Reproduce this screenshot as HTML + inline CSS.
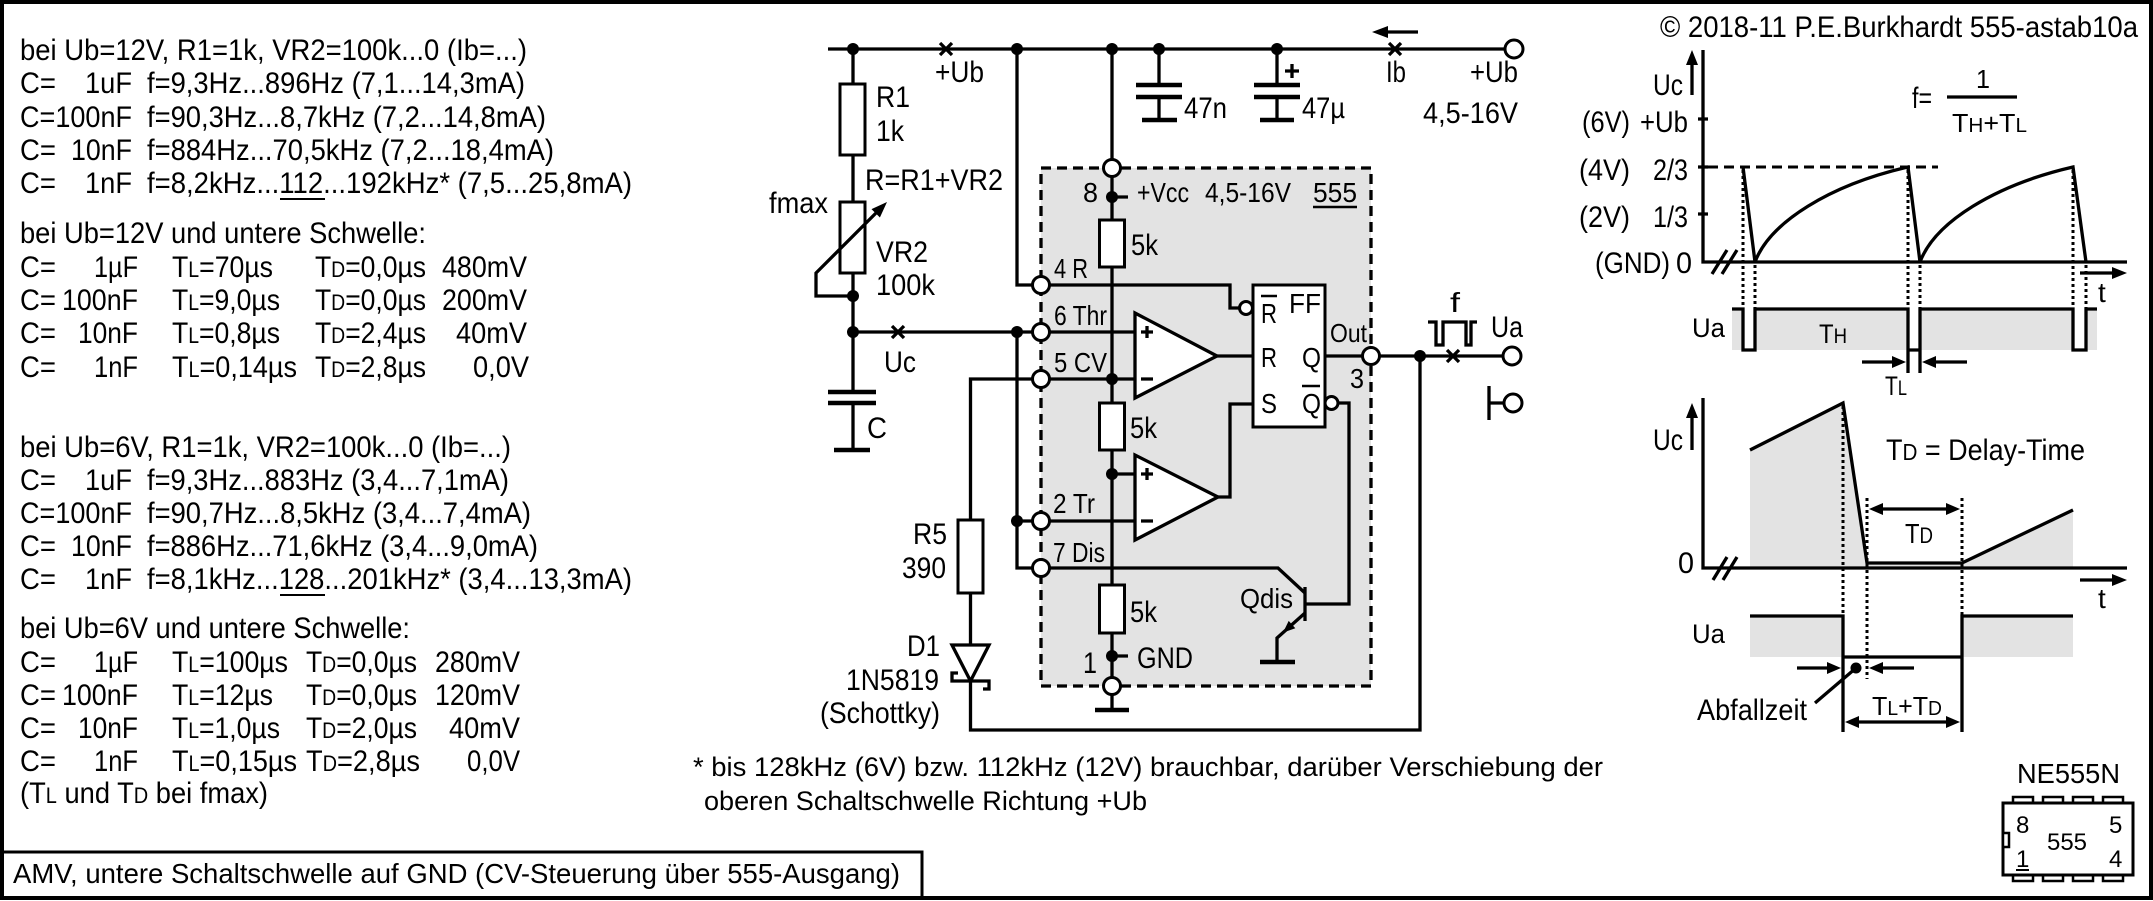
<!DOCTYPE html>
<html><head><meta charset="utf-8"><title>555-astab10a</title>
<style>
html,body{margin:0;padding:0;background:#fff}
svg{display:block}
text{font-family:"Liberation Sans",sans-serif;fill:#000}
.w{fill:none;stroke:#000;stroke-width:3.3;stroke-linejoin:miter}
.p{fill:none;stroke:#000;stroke-width:4.5}
.d{fill:none;stroke:#000;stroke-width:3;stroke-dasharray:3 3}
.o{fill:#fff;stroke:#000;stroke-width:3}
.b{fill:#000}
.g{fill:#e3e3e3;stroke:none}
.L{font-size:30px}
.M{font-size:28px}
.S{font-size:26px}
</style></head><body>
<svg xmlns="http://www.w3.org/2000/svg" width="2153" height="901" viewBox="0 0 2153 901">
<rect x="0" y="0" width="2153" height="901" fill="#fff"/>
<rect x="2" y="2" width="2149" height="896" fill="none" stroke="#000" stroke-width="4"/>

<!-- LEFT TEXT BLOCK 1 -->
<g class="L">
<text x="20" y="60" textLength="507" lengthAdjust="spacingAndGlyphs">bei Ub=12V, R1=1k, VR2=100k...0 (Ib=...)</text>
<text x="20" y="93" textLength="36" lengthAdjust="spacingAndGlyphs">C=</text>
<text x="85" y="93" textLength="47" lengthAdjust="spacingAndGlyphs">1uF</text>
<text x="147" y="93" textLength="378" lengthAdjust="spacingAndGlyphs">f=9,3Hz...896Hz (7,1...14,3mA)</text>
<text x="20" y="127" textLength="112" lengthAdjust="spacingAndGlyphs">C=100nF</text>
<text x="147" y="127" textLength="399" lengthAdjust="spacingAndGlyphs">f=90,3Hz...8,7kHz (7,2...14,8mA)</text>
<text x="20" y="160" textLength="36" lengthAdjust="spacingAndGlyphs">C=</text>
<text x="71" y="160" textLength="61" lengthAdjust="spacingAndGlyphs">10nF</text>
<text x="147" y="160" textLength="407" lengthAdjust="spacingAndGlyphs">f=884Hz...70,5kHz (7,2...18,4mA)</text>
<text x="20" y="193" textLength="36" lengthAdjust="spacingAndGlyphs">C=</text>
<text x="85" y="193" textLength="47" lengthAdjust="spacingAndGlyphs">1nF</text>
<text x="147" y="193" textLength="485" lengthAdjust="spacingAndGlyphs">f=8,2kHz...112...192kHz* (7,5...25,8mA)</text>
<text x="20" y="243" textLength="406" lengthAdjust="spacingAndGlyphs">bei Ub=12V und untere Schwelle:</text>

<text x="20" y="277" textLength="36" lengthAdjust="spacingAndGlyphs">C=</text>
<text x="94" y="277" textLength="44" lengthAdjust="spacingAndGlyphs">1µF</text>
<text x="172" y="277" textLength="101" lengthAdjust="spacingAndGlyphs">T<tspan font-size="22">L</tspan>=70µs</text>
<text x="315" y="277" textLength="111" lengthAdjust="spacingAndGlyphs">T<tspan font-size="22">D</tspan>=0,0µs</text>
<text x="442" y="277" textLength="85" lengthAdjust="spacingAndGlyphs">480mV</text>

<text x="20" y="310" textLength="36" lengthAdjust="spacingAndGlyphs">C=</text>
<text x="62" y="310" textLength="76" lengthAdjust="spacingAndGlyphs">100nF</text>
<text x="172" y="310" textLength="108" lengthAdjust="spacingAndGlyphs">T<tspan font-size="22">L</tspan>=9,0µs</text>
<text x="315" y="310" textLength="111" lengthAdjust="spacingAndGlyphs">T<tspan font-size="22">D</tspan>=0,0µs</text>
<text x="442" y="310" textLength="85" lengthAdjust="spacingAndGlyphs">200mV</text>

<text x="20" y="343" textLength="36" lengthAdjust="spacingAndGlyphs">C=</text>
<text x="78" y="343" textLength="60" lengthAdjust="spacingAndGlyphs">10nF</text>
<text x="172" y="343" textLength="108" lengthAdjust="spacingAndGlyphs">T<tspan font-size="22">L</tspan>=0,8µs</text>
<text x="315" y="343" textLength="111" lengthAdjust="spacingAndGlyphs">T<tspan font-size="22">D</tspan>=2,4µs</text>
<text x="456" y="343" textLength="71" lengthAdjust="spacingAndGlyphs">40mV</text>

<text x="20" y="377" textLength="36" lengthAdjust="spacingAndGlyphs">C=</text>
<text x="94" y="377" textLength="44" lengthAdjust="spacingAndGlyphs">1nF</text>
<text x="172" y="377" textLength="125" lengthAdjust="spacingAndGlyphs">T<tspan font-size="22">L</tspan>=0,14µs</text>
<text x="315" y="377" textLength="111" lengthAdjust="spacingAndGlyphs">T<tspan font-size="22">D</tspan>=2,8µs</text>
<text x="473" y="377" textLength="56" lengthAdjust="spacingAndGlyphs">0,0V</text>
</g>
<path d="M280,199 H325" stroke="#000" stroke-width="2"/>

<!-- LEFT TEXT BLOCK 2 -->
<g class="L">
<text x="20" y="457" textLength="491" lengthAdjust="spacingAndGlyphs">bei Ub=6V, R1=1k, VR2=100k...0 (Ib=...)</text>
<text x="20" y="490" textLength="36" lengthAdjust="spacingAndGlyphs">C=</text>
<text x="85" y="490" textLength="47" lengthAdjust="spacingAndGlyphs">1uF</text>
<text x="147" y="490" textLength="362" lengthAdjust="spacingAndGlyphs">f=9,3Hz...883Hz (3,4...7,1mA)</text>
<text x="20" y="523" textLength="112" lengthAdjust="spacingAndGlyphs">C=100nF</text>
<text x="147" y="523" textLength="384" lengthAdjust="spacingAndGlyphs">f=90,7Hz...8,5kHz (3,4...7,4mA)</text>
<text x="20" y="556" textLength="36" lengthAdjust="spacingAndGlyphs">C=</text>
<text x="71" y="556" textLength="61" lengthAdjust="spacingAndGlyphs">10nF</text>
<text x="147" y="556" textLength="391" lengthAdjust="spacingAndGlyphs">f=886Hz...71,6kHz (3,4...9,0mA)</text>
<text x="20" y="589" textLength="36" lengthAdjust="spacingAndGlyphs">C=</text>
<text x="85" y="589" textLength="47" lengthAdjust="spacingAndGlyphs">1nF</text>
<text x="147" y="589" textLength="485" lengthAdjust="spacingAndGlyphs">f=8,1kHz...128...201kHz* (3,4...13,3mA)</text>
<text x="20" y="638" textLength="390" lengthAdjust="spacingAndGlyphs">bei Ub=6V und untere Schwelle:</text>

<text x="20" y="672" textLength="36" lengthAdjust="spacingAndGlyphs">C=</text>
<text x="94" y="672" textLength="44" lengthAdjust="spacingAndGlyphs">1µF</text>
<text x="172" y="672" textLength="116" lengthAdjust="spacingAndGlyphs">T<tspan font-size="22">L</tspan>=100µs</text>
<text x="306" y="672" textLength="111" lengthAdjust="spacingAndGlyphs">T<tspan font-size="22">D</tspan>=0,0µs</text>
<text x="435" y="672" textLength="85" lengthAdjust="spacingAndGlyphs">280mV</text>

<text x="20" y="705" textLength="36" lengthAdjust="spacingAndGlyphs">C=</text>
<text x="62" y="705" textLength="76" lengthAdjust="spacingAndGlyphs">100nF</text>
<text x="172" y="705" textLength="101" lengthAdjust="spacingAndGlyphs">T<tspan font-size="22">L</tspan>=12µs</text>
<text x="306" y="705" textLength="111" lengthAdjust="spacingAndGlyphs">T<tspan font-size="22">D</tspan>=0,0µs</text>
<text x="435" y="705" textLength="85" lengthAdjust="spacingAndGlyphs">120mV</text>

<text x="20" y="738" textLength="36" lengthAdjust="spacingAndGlyphs">C=</text>
<text x="78" y="738" textLength="60" lengthAdjust="spacingAndGlyphs">10nF</text>
<text x="172" y="738" textLength="108" lengthAdjust="spacingAndGlyphs">T<tspan font-size="22">L</tspan>=1,0µs</text>
<text x="306" y="738" textLength="111" lengthAdjust="spacingAndGlyphs">T<tspan font-size="22">D</tspan>=2,0µs</text>
<text x="449" y="738" textLength="71" lengthAdjust="spacingAndGlyphs">40mV</text>

<text x="20" y="771" textLength="36" lengthAdjust="spacingAndGlyphs">C=</text>
<text x="94" y="771" textLength="44" lengthAdjust="spacingAndGlyphs">1nF</text>
<text x="172" y="771" textLength="125" lengthAdjust="spacingAndGlyphs">T<tspan font-size="22">L</tspan>=0,15µs</text>
<text x="306" y="771" textLength="114" lengthAdjust="spacingAndGlyphs">T<tspan font-size="22">D</tspan>=2,8µs</text>
<text x="467" y="771" textLength="53" lengthAdjust="spacingAndGlyphs">0,0V</text>

<text x="20" y="803" textLength="248" lengthAdjust="spacingAndGlyphs">(T<tspan font-size="22">L</tspan> und T<tspan font-size="22">D</tspan> bei fmax)</text>
</g>
<path d="M280,595 H325" stroke="#000" stroke-width="2"/>

<!-- BOTTOM BOX -->
<path d="M2,852 H922 V898" fill="none" stroke="#000" stroke-width="3"/>
<text class="M" x="13" y="883" textLength="887" lengthAdjust="spacingAndGlyphs">AMV, untere Schaltschwelle auf GND (CV-Steuerung über 555-Ausgang)</text>

<!-- BOTTOM NOTE -->
<text x="693" y="776" font-size="27" textLength="910" lengthAdjust="spacingAndGlyphs">* bis 128kHz (6V) bzw. 112kHz (12V) brauchbar, darüber Verschiebung der</text>
<text x="704" y="810" font-size="27" textLength="443" lengthAdjust="spacingAndGlyphs">oberen Schaltschwelle Richtung +Ub</text>

<!-- ===== CIRCUIT ===== -->
<rect x="1041" y="168" width="330" height="518" fill="#e3e3e3" stroke="#000" stroke-width="3.3" stroke-dasharray="10 6"/>

<path class="w" d="M828,49 H1505"/>
<path class="w" stroke-width="3" d="M940,43 L952,55 M952,43 L940,55 M1389,43 L1401,55 M1401,43 L1389,55"/>
<path class="w" d="M1418,32 H1384"/>
<polygon class="b" points="1372,32 1388,26 1388,38"/>

<path class="w" d="M853,49 V84 M853,155 V202 M853,273 V392"/>
<rect x="840" y="84" width="25" height="71" class="o" stroke-width="3.3"/>
<rect x="840" y="202" width="25" height="71" class="o" stroke-width="3.3"/>
<path class="w" d="M853,296 H816 V273 L877,212"/>
<polygon class="b" points="887,202 871.5,209.1 879.9,217.5"/>
<path class="p" d="M828,392 H876 M828,403 H876"/>
<path class="w" d="M853,403 V450"/>
<path class="p" d="M834,450 H870"/>

<path class="w" d="M853,332 H1032.5"/>
<path class="w" stroke-width="3" d="M892,326 L904,338 M904,326 L892,338"/>
<path class="w" d="M1017,49 V285 H1032.5"/>
<path class="w" d="M1017,332 V568 H1032.5 M1017,521 H1032.5"/>

<path class="w" d="M1159,49 V85 M1159,97 V120 M1277,49 V85 M1277,97 V120"/>
<path class="p" d="M1136,85 H1182 M1136,97 H1182 M1142,120 H1177 M1254,85 H1300 M1254,97 H1300 M1260,120 H1294"/>
<path class="w" stroke-width="3" d="M1285,71 H1299 M1292,64 V78"/>

<path class="w" d="M1112,49 V159.5 M1112,176.5 V220 M1112,267 V403 M1112,450 V585 M1112,633 V677.5 M1112,694.5 V710 M1112,197 H1128 M1112,656 H1128"/>
<path class="p" d="M1095,710 H1129"/>
<rect x="1099.5" y="220" width="25" height="47" class="o" stroke-width="3.3"/>
<rect x="1099.5" y="403" width="25" height="47" class="o" stroke-width="3.3"/>
<rect x="1099.5" y="585" width="25" height="48" class="o" stroke-width="3.3"/>

<path class="w" d="M1049.5,332 H1135 M1049.5,379 H1135 M1112,474 H1135 M1049.5,521 H1135"/>
<path class="w" d="M1032.5,379 H970.5 V520 M970.5,593 V645 M970.5,681 V730 H1420 V356"/>
<rect x="958" y="520" width="25" height="73" class="o" stroke-width="3.3"/>
<polygon points="952,645 989,645 970.5,681" fill="#fff" stroke="#000" stroke-width="3.3" stroke-linejoin="miter"/>
<path class="w" d="M958,673 H952 V681 H989 V689 H983"/>

<polygon points="1135,313 1135,398 1217,356" fill="#fff" stroke="#000" stroke-width="3.3"/>
<polygon points="1135,455 1135,540 1218,497" fill="#fff" stroke="#000" stroke-width="3.3"/>
<path class="w" stroke-width="3" d="M1141,332 H1153 M1147,326 V338 M1141,379 H1153 M1141,474 H1153 M1147,468 V480 M1141,521 H1153"/>
<path class="w" d="M1217,356 H1253 M1218,497 H1230 V404 H1253"/>

<rect x="1253" y="285" width="72" height="142" class="o" stroke-width="3.3"/>
<path class="w" d="M1049.5,285 H1230 V308 H1239.5"/>
<circle cx="1246" cy="308" r="6.5" class="o"/>
<path class="w" d="M1325,356 H1362.5 M1379.5,356 H1503.5"/>
<path class="w" stroke-width="3" d="M1447,350 L1459,362 M1459,350 L1447,362"/>
<circle cx="1331.5" cy="403" r="6.5" class="o"/>
<path class="w" d="M1338,403 H1349 V604 H1305"/>

<path class="w" stroke-width="4" d="M1305,587 V621"/>
<path class="w" d="M1305,593 L1278,568 H1049.5 M1305,613 L1277,638 V662"/>
<path class="p" d="M1260,662 H1295"/>
<polygon class="b" points="1283,632.6 1295.3,628.3 1288.7,620.9"/>

<path class="w" d="M1489,386 V420 M1489,403 H1504"/>
<path class="w" stroke-width="2.6" d="M1428,322 H1436 V345 H1443 V322 H1466 V345 H1471 V322 H1477"/>

<g class="b">
<circle cx="853" cy="49" r="6"/><circle cx="1017" cy="49" r="6"/><circle cx="1112" cy="49" r="6"/><circle cx="1159" cy="49" r="6"/><circle cx="1277" cy="49" r="6"/>
<circle cx="853" cy="296" r="6"/><circle cx="853" cy="332" r="6"/><circle cx="1017" cy="332" r="6"/><circle cx="1017" cy="521" r="6"/>
<circle cx="1112" cy="197" r="6"/><circle cx="1112" cy="379" r="6"/><circle cx="1112" cy="474" r="6"/><circle cx="1112" cy="656" r="6"/>
<circle cx="1420" cy="356" r="6"/>
</g>
<g>
<circle cx="1041" cy="285" r="8.5" class="o"/><circle cx="1041" cy="332" r="8.5" class="o"/><circle cx="1041" cy="379" r="8.5" class="o"/>
<circle cx="1041" cy="521" r="8.5" class="o"/><circle cx="1041" cy="568" r="8.5" class="o"/>
<circle cx="1112" cy="168" r="8.5" class="o"/><circle cx="1112" cy="686" r="8.5" class="o"/>
<circle cx="1371" cy="356" r="8.5" class="o"/><circle cx="1512" cy="356" r="9" class="o"/>
<circle cx="1514" cy="49" r="9" class="o"/><circle cx="1513" cy="403" r="9" class="o"/>
</g>

<g class="L">
<text x="935" y="82" textLength="49" lengthAdjust="spacingAndGlyphs">+Ub</text>
<text x="876" y="107" textLength="34" lengthAdjust="spacingAndGlyphs">R1</text>
<text x="876" y="141" textLength="28" lengthAdjust="spacingAndGlyphs">1k</text>
<text x="865" y="190" textLength="138" lengthAdjust="spacingAndGlyphs">R=R1+VR2</text>
<text x="769" y="213" textLength="59" lengthAdjust="spacingAndGlyphs">fmax</text>
<text x="876" y="262" textLength="52" lengthAdjust="spacingAndGlyphs">VR2</text>
<text x="876" y="295" textLength="59" lengthAdjust="spacingAndGlyphs">100k</text>
<text x="884" y="372" textLength="32" lengthAdjust="spacingAndGlyphs">Uc</text>
<text x="867" y="438" textLength="20" lengthAdjust="spacingAndGlyphs">C</text>
<text x="1184" y="118" textLength="43" lengthAdjust="spacingAndGlyphs">47n</text>
<text x="1302" y="118" textLength="43" lengthAdjust="spacingAndGlyphs">47µ</text>
<text x="1386" y="82" textLength="20" lengthAdjust="spacingAndGlyphs">Ib</text>
<text x="1470" y="82" textLength="48" lengthAdjust="spacingAndGlyphs">+Ub</text>
<text x="1423" y="123" textLength="95" lengthAdjust="spacingAndGlyphs">4,5-16V</text>
<text x="1131" y="255" textLength="27" lengthAdjust="spacingAndGlyphs">5k</text>
<text x="1130" y="438" textLength="27" lengthAdjust="spacingAndGlyphs">5k</text>
<text x="1130" y="622" textLength="27" lengthAdjust="spacingAndGlyphs">5k</text>
<text x="1491" y="337" textLength="32" lengthAdjust="spacingAndGlyphs">Ua</text>
<text x="1083" y="673" textLength="14" lengthAdjust="spacingAndGlyphs">1</text>
<text x="1137" y="668" textLength="56" lengthAdjust="spacingAndGlyphs">GND</text>
<text x="913" y="544" textLength="34" lengthAdjust="spacingAndGlyphs">R5</text>
<text x="902" y="578" textLength="44" lengthAdjust="spacingAndGlyphs">390</text>
<text x="907" y="656" textLength="33" lengthAdjust="spacingAndGlyphs">D1</text>
<text x="846" y="690" textLength="93" lengthAdjust="spacingAndGlyphs">1N5819</text>
<text x="820" y="723" textLength="120" lengthAdjust="spacingAndGlyphs">(Schottky)</text>
</g>
<g class="M">
<text x="1083" y="202" textLength="15" lengthAdjust="spacingAndGlyphs">8</text>
<text x="1137" y="202" textLength="52" lengthAdjust="spacingAndGlyphs">+Vcc</text>
<text x="1205" y="202" textLength="86" lengthAdjust="spacingAndGlyphs">4,5-16V</text>
<text x="1313" y="202" textLength="44" lengthAdjust="spacingAndGlyphs">555</text>
<text x="1054" y="278" textLength="34" lengthAdjust="spacingAndGlyphs">4 R</text>
<text x="1054" y="325" textLength="53" lengthAdjust="spacingAndGlyphs">6 Thr</text>
<text x="1054" y="372" textLength="53" lengthAdjust="spacingAndGlyphs">5 CV</text>
<text x="1053" y="513" textLength="42" lengthAdjust="spacingAndGlyphs">2 Tr</text>
<text x="1053" y="562" textLength="52" lengthAdjust="spacingAndGlyphs">7 Dis</text>
<text x="1289" y="313" textLength="32" lengthAdjust="spacingAndGlyphs">FF</text>
<text x="1261" y="323" textLength="16" lengthAdjust="spacingAndGlyphs">R</text>
<text x="1261" y="367" textLength="16" lengthAdjust="spacingAndGlyphs">R</text>
<text x="1302" y="367" textLength="19" lengthAdjust="spacingAndGlyphs">Q</text>
<text x="1261" y="413" textLength="16" lengthAdjust="spacingAndGlyphs">S</text>
<text x="1302" y="413" textLength="19" lengthAdjust="spacingAndGlyphs">Q</text>
<text x="1350" y="388" textLength="14" lengthAdjust="spacingAndGlyphs">3</text>
<text x="1450" y="312" textLength="10" lengthAdjust="spacingAndGlyphs">f</text>
<text x="1240" y="608" textLength="53" lengthAdjust="spacingAndGlyphs">Qdis</text>
</g>
<text x="1330" y="342" font-size="26" textLength="37" lengthAdjust="spacingAndGlyphs">Out</text>
<path stroke="#000" stroke-width="2.5" d="M1313,207 H1357 M1261,296 H1277 M1302,386 H1320"/>

<!-- ===== WAVEFORMS ===== -->
<text class="L" x="1660" y="37" textLength="478" lengthAdjust="spacingAndGlyphs">© 2018-11 P.E.Burkhardt 555-astab10a</text>

<rect class="g" x="1732" y="309" width="11" height="41"/>
<rect class="g" x="1755" y="309" width="153" height="41"/>
<rect class="g" x="1920" y="309" width="153" height="41"/>
<rect class="g" x="2086" y="309" width="11" height="41"/>
<path class="w" d="M1703,50 V262 H2127"/>
<path class="w" d="M1698,119 H1708 M1698,167 H1708 M1698,214 H1708"/>
<path class="w" d="M1712,274 L1727,250 M1722,274 L1737,250"/>
<path class="w" d="M1692,95 V62"/>
<polygon class="b" points="1692,50 1686,65 1698,65"/>
<path fill="none" stroke="#000" stroke-width="3" stroke-dasharray="10 6" d="M1708,167 H1938"/>
<path class="w" d="M1743,167 L1755,262 C1770,222 1830,185 1908,167 L1920,262 C1935,222 1995,185 2073,167 L2086,262"/>
<path class="d" d="M1743,170 V309 M1755,265 V309 M1908,170 V309 M1920,265 V309 M2073,170 V309 M2086,265 V309"/>
<path class="w" d="M1732,309 H1743 V350 H1755 V309 H1908 V373 M1908,350 H1920 M1920,373 V309 H2073 V350 H2086 V309 H2097"/>
<path class="w" d="M1862,362 H1896 M1967,362 H1932"/>
<polygon class="b" points="1906,362 1892,356 1892,368"/>
<polygon class="b" points="1922,362 1936,356 1936,368"/>
<path class="w" d="M2080,273 H2114"/>
<polygon class="b" points="2127,273 2112,267 2112,279"/>
<text class="M" x="2098" y="302">t</text>

<g class="L">
<text x="1653" y="95" textLength="30" lengthAdjust="spacingAndGlyphs">Uc</text>
<text x="1582" y="132" textLength="48" lengthAdjust="spacingAndGlyphs">(6V)</text>
<text x="1640" y="132" textLength="48" lengthAdjust="spacingAndGlyphs">+Ub</text>
<text x="1579" y="180" textLength="51" lengthAdjust="spacingAndGlyphs">(4V)</text>
<text x="1653" y="180" textLength="35" lengthAdjust="spacingAndGlyphs">2/3</text>
<text x="1579" y="227" textLength="51" lengthAdjust="spacingAndGlyphs">(2V)</text>
<text x="1653" y="227" textLength="35" lengthAdjust="spacingAndGlyphs">1/3</text>
<text x="1595" y="273" textLength="75" lengthAdjust="spacingAndGlyphs">(GND)</text>
<text x="1676" y="273" textLength="16" lengthAdjust="spacingAndGlyphs">0</text>
<text x="1912" y="108" textLength="20" lengthAdjust="spacingAndGlyphs">f=</text>
</g>
<text x="1692" y="337" font-size="27" textLength="33" lengthAdjust="spacingAndGlyphs">Ua</text>
<text x="1819" y="343" font-size="27" textLength="28" lengthAdjust="spacingAndGlyphs">T<tspan font-size="21">H</tspan></text>
<text x="1885" y="395" font-size="27" textLength="22" lengthAdjust="spacingAndGlyphs">T<tspan font-size="21">L</tspan></text>
<path class="w" d="M1947,97 H2017"/>
<text x="1976" y="88" font-size="26" textLength="14" lengthAdjust="spacingAndGlyphs">1</text>
<text x="1952" y="132" font-size="26" textLength="75" lengthAdjust="spacingAndGlyphs">T<tspan font-size="20">H</tspan>+T<tspan font-size="20">L</tspan></text>

<polygon class="g" points="1750,450 1843,403 1867,563 1962,563 2073,510 2073,568 1750,568"/>
<rect class="g" x="1750" y="616" width="93" height="41"/>
<rect class="g" x="1962" y="616" width="111" height="41"/>
<path class="w" d="M1703,398 V568 H2127"/>
<path class="w" d="M1713,580 L1727,557 M1723,580 L1737,557"/>
<path class="w" d="M1692,450 V415"/>
<polygon class="b" points="1692,403 1686,418 1698,418"/>
<path class="w" d="M1750,450 L1843,403 L1867,563 H1962 L2073,510"/>
<path class="d" d="M1843,406 V616 M1867,498 V679 M1962,498 V616"/>
<path class="w" d="M1881,509 H1948"/>
<polygon class="b" points="1869,509 1883,503 1883,515"/>
<polygon class="b" points="1960,509 1946,503 1946,515"/>
<path class="w" d="M1750,616 H1843 V732 M1843,657 H1962 M1962,732 V616 H2073"/>
<path class="w" d="M1797,668 H1829 M1914,668 H1881"/>
<polygon class="b" points="1841,668 1827,662 1827,674"/>
<polygon class="b" points="1869,668 1883,662 1883,674"/>
<circle class="b" cx="1856" cy="668" r="5.5"/>
<path class="w" stroke-width="3" d="M1856,668 L1815,703"/>
<path class="w" d="M1857,722 H1948"/>
<polygon class="b" points="1845,722 1859,716 1859,728"/>
<polygon class="b" points="1960,722 1946,716 1946,728"/>
<path class="w" d="M2080,580 H2114"/>
<polygon class="b" points="2127,580 2112,574 2112,586"/>
<text class="M" x="2098" y="608">t</text>

<g class="L">
<text x="1653" y="450" textLength="30" lengthAdjust="spacingAndGlyphs">Uc</text>
<text x="1678" y="573" textLength="16" lengthAdjust="spacingAndGlyphs">0</text>
<text x="1886" y="460" textLength="199" lengthAdjust="spacingAndGlyphs">T<tspan font-size="23">D</tspan> = Delay-Time</text>
<text x="1697" y="720" textLength="110" lengthAdjust="spacingAndGlyphs">Abfallzeit</text>
</g>
<text x="1905" y="543" font-size="28" textLength="28" lengthAdjust="spacingAndGlyphs">T<tspan font-size="22">D</tspan></text>
<text x="1692" y="643" font-size="27" textLength="33" lengthAdjust="spacingAndGlyphs">Ua</text>
<text x="1872" y="715" font-size="26" textLength="70" lengthAdjust="spacingAndGlyphs">T<tspan font-size="20">L</tspan>+T<tspan font-size="20">D</tspan></text>

<text class="M" x="2017" y="783" textLength="103" lengthAdjust="spacingAndGlyphs">NE555N</text>
<g fill="#fff" stroke="#000" stroke-width="2.5">
<rect x="2013" y="797" width="20" height="6"/><rect x="2043" y="797" width="20" height="6"/><rect x="2073" y="797" width="20" height="6"/><rect x="2103" y="797" width="20" height="6"/>
<rect x="2013" y="875" width="20" height="6"/><rect x="2043" y="875" width="20" height="6"/><rect x="2073" y="875" width="20" height="6"/><rect x="2103" y="875" width="20" height="6"/>
</g>
<rect x="2003" y="803" width="130" height="72" fill="#fff" stroke="#000" stroke-width="3"/>
<rect x="2003" y="833" width="6" height="14" fill="#fff" stroke="#000" stroke-width="2.5"/>
<g font-size="24">
<text x="2016" y="833">8</text>
<text x="2016" y="867">1</text>
<text x="2047" y="850" textLength="40" lengthAdjust="spacingAndGlyphs">555</text>
<text x="2109" y="833">5</text>
<text x="2109" y="867">4</text>
</g>
<path stroke="#000" stroke-width="2" d="M2016,870 H2029"/>
</svg>
</body></html>
